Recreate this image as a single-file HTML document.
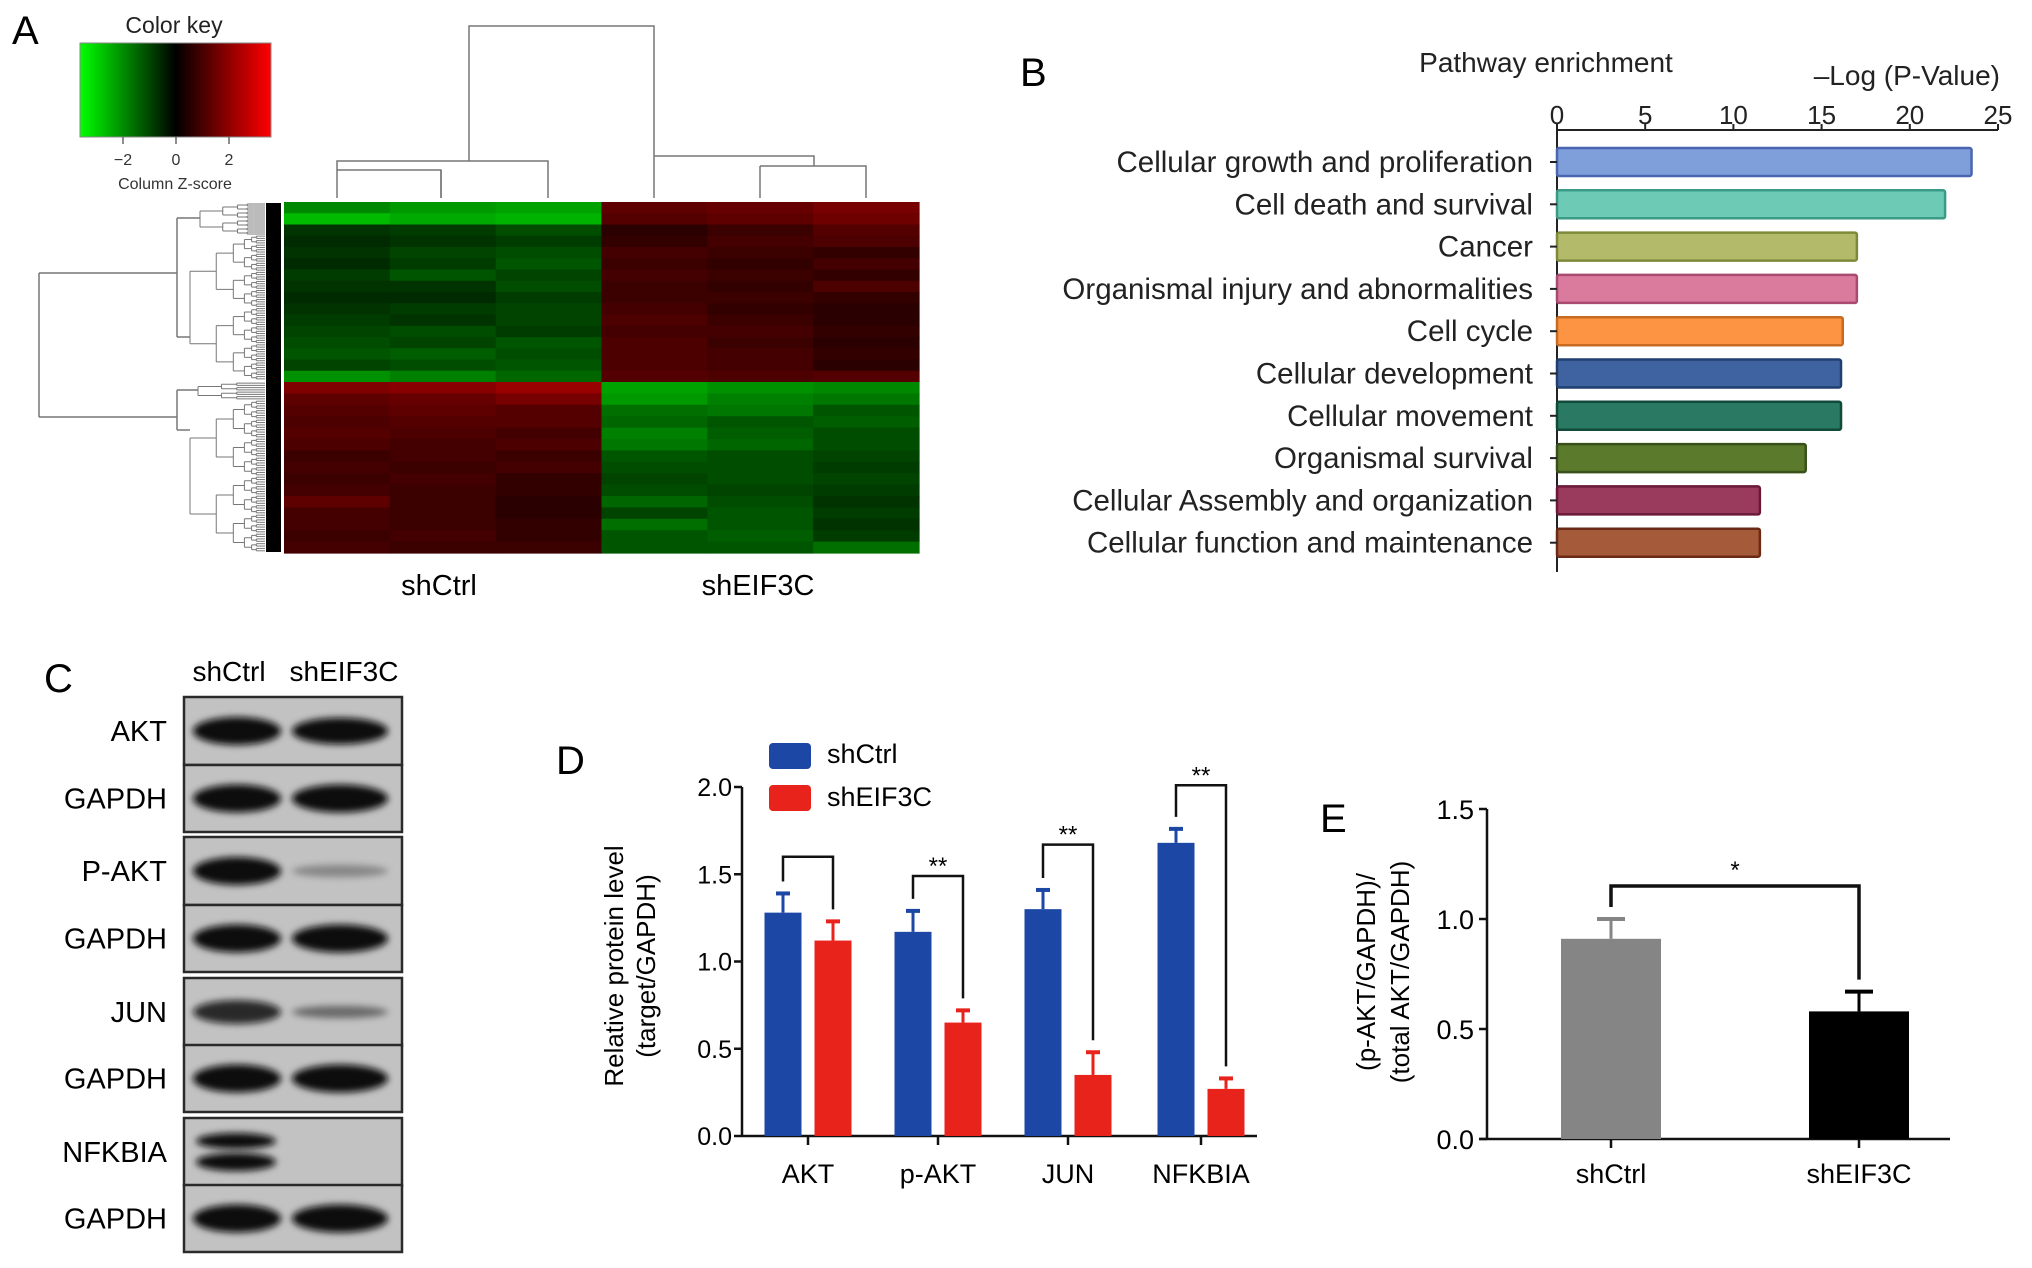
<!DOCTYPE html>
<html><head><meta charset="utf-8"><style>
html,body{margin:0;padding:0;background:#fff;}
svg{display:block;font-family:"Liberation Sans",Arial,sans-serif;}
</style></head><body>
<svg id="fig" width="2032" height="1268" viewBox="0 0 2032 1268" xmlns="http://www.w3.org/2000/svg">
<defs>
<linearGradient id="ck" x1="0" x2="1" y1="0" y2="0">
<stop offset="0" stop-color="#00ff00"/><stop offset="0.5" stop-color="#000"/><stop offset="1" stop-color="#ff0000"/>
</linearGradient>
<filter id="blur" x="-20%" y="-50%" width="140%" height="200%"><feGaussianBlur stdDeviation="3.5"/></filter>
</defs>
<text x="12" y="44" font-size="40">A</text>
<text x="1020" y="86" font-size="40">B</text>
<text x="44" y="692" font-size="40">C</text>
<text x="556" y="774" font-size="40">D</text>
<text x="1320" y="832" font-size="40">E</text>

<g>
<text x="174" y="33" font-size="23" text-anchor="middle" fill="#222">Color key</text>
<rect x="80" y="43" width="191" height="94" fill="url(#ck)" stroke="#888" stroke-width="1"/>
<g stroke="#444" stroke-width="1.2"><line x1="123" y1="137" x2="123" y2="144"/><line x1="176" y1="137" x2="176" y2="144"/><line x1="229" y1="137" x2="229" y2="144"/></g>
<g font-size="16" text-anchor="middle" fill="#333"><text x="123" y="165">−2</text><text x="176" y="165">0</text><text x="229" y="165">2</text></g>
<text x="175" y="189" font-size="16" text-anchor="middle" fill="#333">Column Z-score</text>
</g>
<g id="heatmap"></g>
<g id="dendro" stroke="#777" stroke-width="1.5" fill="none"></g>
<text x="439" y="595" font-size="29" text-anchor="middle">shCtrl</text>
<text x="758" y="595" font-size="29" text-anchor="middle">shEIF3C</text>

<g id="chartB"></g>
<g id="blots"></g>
<g id="chartD"></g>
<g id="chartE"></g>
</svg>
<script>
// ---------- Heatmap data ----------
const heatCols = ["shCtrl1","shCtrl2","shCtrl3","shEIF3C1","shEIF3C2","shEIF3C3"];
const heatTop = [
[-1.6,-1.8,-1.9,1.1,1.2,1.4],[-2.2,-2.0,-2.1,1.0,1.1,1.3],[-0.6,-0.7,-0.9,0.5,0.7,1.0],[-0.5,-0.6,-0.7,0.6,0.8,0.9],
[-0.6,-0.8,-0.9,0.8,0.7,0.6],[-0.5,-0.7,-1.0,0.7,0.6,0.8],[-0.7,-1.0,-0.8,0.8,0.7,0.6],[-0.6,-0.6,-0.9,0.7,0.6,0.9],
[-0.5,-0.5,-0.7,0.7,0.7,0.6],[-0.6,-0.7,-0.8,0.8,0.6,0.5],[-0.7,-0.6,-0.8,0.9,0.7,0.5],[-0.8,-0.9,-0.7,0.8,0.8,0.6],
[-0.9,-0.8,-1.0,0.9,0.7,0.5],[-1.0,-1.1,-0.9,0.9,0.8,0.6],[-0.8,-0.9,-1.0,0.9,0.8,0.5],[-1.7,-1.5,-1.2,1.0,0.9,1.0]];
const heatBot = [
[1.5,1.6,1.8,-1.9,-1.7,-1.6],[1.1,1.2,1.4,-1.8,-1.5,-1.4],[1.0,1.1,1.0,-1.3,-1.4,-1.0],[0.9,1.0,1.0,-1.2,-1.0,-1.1],
[1.0,0.9,0.8,-1.5,-1.1,-0.9],[0.9,0.8,0.9,-1.4,-1.2,-0.9],[0.7,0.8,0.7,-1.0,-0.9,-0.8],[0.8,0.7,0.8,-0.9,-0.9,-0.7],
[0.7,0.8,0.6,-0.8,-0.9,-0.8],[0.8,0.7,0.6,-0.9,-0.8,-0.7],[1.1,0.7,0.5,-1.2,-0.9,-0.6],[0.8,0.7,0.5,-0.8,-1.0,-0.7],
[0.8,0.7,0.6,-1.3,-1.0,-0.6],[0.7,0.8,0.6,-1.0,-1.1,-0.7],[0.8,0.7,0.7,-1.0,-1.0,-1.3]];

// ---------- Panel B data ----------
const pathCats = ["Cellular growth and proliferation","Cell death and survival","Cancer","Organismal injury and abnormalities","Cell cycle","Cellular development","Cellular movement","Organismal survival","Cellular Assembly and organization","Cellular function and maintenance"];
const pathVals = [23.5,22.0,17.0,17.0,16.2,16.1,16.1,14.1,11.5,11.5];
const pathTicks = [0,5,10,15,20,25];

// ---------- Panel D data ----------
const protCats = ["AKT","p-AKT","JUN","NFKBIA"];
const ctrlVals = [1.28,1.17,1.30,1.68];
const ctrlErr = [0.11,0.12,0.11,0.08];
const kdVals = [1.12,0.65,0.35,0.27];
const kdErr = [0.11,0.07,0.13,0.06];
const bracketTops = [1.60,1.49,1.67,2.01];
const sigMarks = ["","**","**","**"];
const protTicks = [0.0,0.5,1.0,1.5,2.0];

// ---------- Panel E data ----------
const ratioCats = ["shCtrl","shEIF3C"];
const ratioVals = [0.91,0.58];
const ratioErr = [0.09,0.09];
const ratioBracket = 1.15;
const ratioTicks = [0.0,0.5,1.0,1.5];

// ---------- Blot data ----------
const blotLabels = ["AKT","GAPDH","P-AKT","GAPDH","JUN","GAPDH","NFKBIA","GAPDH"];
const blotCtrl = [1.0,1.0,1.0,1.0,0.85,1.0,0.95,1.0];
const blotKd = [0.95,1.0,0.25,1.0,0.4,1.0,0.0,1.0];

const NS="http://www.w3.org/2000/svg";
function mk(tag,attrs,parent){const e=document.createElementNS(NS,tag);for(const k in attrs)e.setAttribute(k,attrs[k]);parent.appendChild(e);return e;}
function zcol(z){const t=Math.max(-1,Math.min(1,z/3));if(t<0){return `rgb(0,${Math.round(-t*255)},0)`;}return `rgb(${Math.round(t*255)},0,0)`;}

// Heatmap
(function(){
const g=document.getElementById('heatmap');
const x0=284,x1=919,yTop=202,ySplit=382,yBot=553;
const cw=(x1-x0)/heatCols.length;
function block(rows,ya,yb){const rh=(yb-ya)/rows.length;
rows.forEach((r,i)=>r.forEach((z,j)=>{const c=mk('rect',{x:x0+j*cw,y:ya+i*rh,width:cw+0.6,height:rh+0.6,fill:zcol(z)},g);

}));}
block(heatTop,yTop,ySplit);block(heatBot,ySplit,yBot);
const d=document.getElementById('dendro');
const P=(s)=>mk('path',{d:s},d);
// column dendrogram
P("M469 161 V26 H654 V156");
P("M337 170 V161 H548 V198");P("M337 170 H441 V198");P("M337 170 V198");P("M441 170 V198");
P("M654 156 H814 V166");P("M654 156 V198");P("M760 166 H866 V198");P("M760 166 V198");
// row dendrogram (coarse)
P("M39 273 V417");P("M39 273 H177");P("M39 417 H177");
P("M177 218 V337");P("M177 218 H200");P("M177 337 H190");
P("M177 390 V430");P("M177 390 H198");P("M177 430 H190");
// nested fine structure
const fine=mk('g',{stroke:'#777','stroke-width':1},d);
function tree(x,ya,yb,depth){if(depth===0||yb-ya<3){mk('line',{x1:x,y1:(ya+yb)/2,x2:265,y2:(ya+yb)/2},fine);return;}
const m=(ya+yb)/2,nx=x+(265-x)*0.35;
mk('line',{x1:x,y1:(ya+m)/2,x2:x,y2:(m+yb)/2},fine);
mk('line',{x1:x,y1:(ya+m)/2,x2:nx,y2:(ya+m)/2},fine);
mk('line',{x1:x,y1:(m+yb)/2,x2:nx,y2:(m+yb)/2},fine);
tree(nx,ya,m,depth-1);tree(nx,m,yb,depth-1);}
tree(200,203,235,4);tree(190,235,380,6);tree(198,382,400,3);tree(190,400,552,6);
mk('rect',{x:266,y:203,width:15,height:349,fill:'#000',stroke:'none'},d);
})();

// Panel B
(function(){
const g=document.getElementById('chartB');
const xa=1557,xb=1998,ya=130;
const xs=v=>xa+(xb-xa)*v/25;
const cols=["#7f9fdb","#6dcab5","#b3bb6a","#da7a9d","#fc9444","#3f63a0","#2a7a63","#5b7a2b","#9a3b5d","#a55a3a"];
const strokes=["#4a66b0","#3a9a85","#7e8a3a","#a94a70","#c86a20","#203f70","#104a38","#39501a","#6a1a38","#6a2a15"];
let t=mk('text',{x:1546,y:72,'font-size':28,'text-anchor':'middle',fill:'#222'},g);t.textContent="Pathway enrichment";

t=mk('text',{x:2000,y:85,'font-size':28,'text-anchor':'end',fill:'#222'},g);t.textContent="–Log (P-Value)";

mk('line',{x1:xa,y1:ya,x2:xb,y2:ya,stroke:'#222','stroke-width':2},g);
mk('line',{x1:xa,y1:ya,x2:xa,y2:572,stroke:'#222','stroke-width':2},g);
pathTicks.forEach(v=>{mk('line',{x1:xs(v),y1:ya-6,x2:xs(v),y2:ya,stroke:'#222','stroke-width':2},g);
const l=mk('text',{x:xs(v),y:124,'font-size':26,'text-anchor':'middle',fill:'#222'},g);l.textContent=v;
});
pathCats.forEach((c,i)=>{const cy=162+i*42.3;
const r=mk('rect',{x:xa,y:cy-14,width:xs(pathVals[i])-xa,height:28,fill:cols[i],stroke:strokes[i],'stroke-width':2.5,rx:2},g);


mk('line',{x1:xa-7,y1:cy,x2:xa,y2:cy,stroke:'#222','stroke-width':2},g);
const l=mk('text',{x:1533,y:cy+10,'font-size':29.5,'text-anchor':'end',fill:'#222'},g);l.textContent=c;

});
})();

// Panel C blots
(function(){
const g=document.getElementById('blots');
let t=mk('text',{x:229,y:681,'font-size':28,'text-anchor':'middle'},g);t.textContent="shCtrl";

t=mk('text',{x:344,y:681,'font-size':28,'text-anchor':'middle'},g);t.textContent="shEIF3C";

const tops=[697,765,837,905,978,1045,1118,1185];
blotLabels.forEach((lab,i)=>{const y=tops[i],h=(i%2==0?68:67);
const r=mk('rect',{x:184,y:y,width:218,height:h,fill:'#c2c2c2',stroke:'#2a2a2a','stroke-width':2.5},g);

const cy=y+h/2;
if(lab==="NFKBIA"){mk('ellipse',{cx:236,cy:cy-11,rx:40,ry:8,fill:'#0a0a0a',filter:'url(#blur)'},g);mk('ellipse',{cx:236,cy:cy+10,rx:40,ry:9,fill:'#0a0a0a',filter:'url(#blur)'},g);}
else{const a=blotCtrl[i],b=blotKd[i];
mk('ellipse',{cx:237,cy:cy,rx:44,ry:14*Math.max(a,0.6),fill:'#0a0a0a','fill-opacity':a,filter:'url(#blur)'},g);
if(b>0)mk('ellipse',{cx:340,cy:cy,rx:48,ry:14*Math.max(b,0.45),fill:'#0a0a0a','fill-opacity':Math.min(1,b+0.05),filter:'url(#blur)'},g);}
const l=mk('text',{x:167,y:cy+10,'font-size':29,'text-anchor':'end'},g);l.textContent=lab;
});
})();

// Panel D
(function(){
const g=document.getElementById('chartD');
const x0=742,xEnd=1257,y0=1136,perUnit=(1136-787)/2;
const ys=v=>y0-v*perUnit;
const centers=[808,938,1068,1201];
mk('line',{x1:x0,y1:787,x2:x0,y2:y0,stroke:'#111','stroke-width':2.5},g);
mk('line',{x1:x0,y1:y0,x2:xEnd,y2:y0,stroke:'#111','stroke-width':2.5},g);
protTicks.forEach(v=>{mk('line',{x1:x0-8,y1:ys(v),x2:x0,y2:ys(v),stroke:'#111','stroke-width':2.5},g);
const l=mk('text',{x:x0-10,y:ys(v)+9,'font-size':25,'text-anchor':'end'},g);l.textContent=v.toFixed(1);
});
const yl=mk('text',{transform:'translate(623,966) rotate(-90)','font-size':26,'text-anchor':'middle'},g);
yl.innerHTML='<tspan x="0" dy="0">Relative protein level</tspan><tspan x="0" dy="32">(target/GAPDH)</tspan>';

let r=mk('rect',{x:769,y:743,width:42,height:26,fill:'#1c47a5',rx:4},g);
let t=mk('text',{x:827,y:763,'font-size':27},g);t.textContent='shCtrl';
r=mk('rect',{x:769,y:785,width:42,height:26,fill:'#e8231c',rx:4},g);
t=mk('text',{x:827,y:806,'font-size':27},g);t.textContent='shEIF3C';
protCats.forEach((c,i)=>{const cx=centers[i];
mk('line',{x1:cx,y1:y0,x2:cx,y2:y0+9,stroke:'#111','stroke-width':2.5},g);
const l=mk('text',{x:cx,y:1183,'font-size':27,'text-anchor':'middle'},g);l.textContent=c;

[[ctrlVals,ctrlErr,'#1c47a5',-25],[kdVals,kdErr,'#e8231c',25]].forEach(([vals,errs,col,off])=>{
const bx=cx+off,v=vals[i],e=errs[i];
const b=mk('rect',{x:bx-18.5,y:ys(v),width:37,height:y0-ys(v),fill:col},g);


mk('line',{x1:bx,y1:ys(v),x2:bx,y2:ys(v+e),stroke:col,'stroke-width':3},g);
mk('line',{x1:bx-7,y1:ys(v+e),x2:bx+7,y2:ys(v+e),stroke:col,'stroke-width':4},g);});
const lTop=ys(ctrlVals[i]+ctrlErr[i])-12,rTop=ys(kdVals[i]+kdErr[i])-12;
const top=ys(bracketTops[i]);
const bx1=cx-25,bx2=cx+25;
const br=mk('path',{d:`M${bx1} ${lTop} V${top} H${bx2} V${rTop}`,stroke:'#111','stroke-width':2.5,fill:'none'},g);

if(sigMarks[i]){const s=mk('text',{x:cx,y:top-2,'font-size':24,'text-anchor':'middle'},g);s.textContent=sigMarks[i];
}});
})();

// Panel E
(function(){
const g=document.getElementById('chartE');
const x0=1487,xEnd=1950,y0=1139,perUnit=(1139-809)/1.5;
const ys=v=>y0-v*perUnit;
const centers=[1611,1859];const cols=['#858585','#000'];
mk('line',{x1:x0,y1:809,x2:x0,y2:y0,stroke:'#111','stroke-width':2.5},g);
mk('line',{x1:x0-8,y1:y0,x2:xEnd,y2:y0,stroke:'#111','stroke-width':2.5},g);
ratioTicks.forEach(v=>{mk('line',{x1:x0-8,y1:ys(v),x2:x0,y2:ys(v),stroke:'#111','stroke-width':2.5},g);
const l=mk('text',{x:x0-13,y:ys(v)+10,'font-size':27,'text-anchor':'end'},g);l.textContent=v.toFixed(1);
});
const yl=mk('text',{transform:'translate(1375,972) rotate(-90)','font-size':26,'text-anchor':'middle'},g);
yl.innerHTML='<tspan x="0" dy="0">(p-AKT/GAPDH)/</tspan><tspan x="0" dy="34">(total AKT/GAPDH)</tspan>';

ratioCats.forEach((c,i)=>{const cx=centers[i],v=ratioVals[i],e=ratioErr[i];
const b=mk('rect',{x:cx-50,y:ys(v),width:100,height:y0-ys(v),fill:cols[i]},g);


mk('line',{x1:cx,y1:ys(v),x2:cx,y2:ys(v+e),stroke:cols[i],'stroke-width':3},g);
mk('line',{x1:cx-14,y1:ys(v+e),x2:cx+14,y2:ys(v+e),stroke:cols[i],'stroke-width':4},g);
mk('line',{x1:cx,y1:y0,x2:cx,y2:y0+9,stroke:'#111','stroke-width':2.5},g);
const l=mk('text',{x:cx,y:1183,'font-size':27,'text-anchor':'middle'},g);l.textContent=c;
});
const top=ys(ratioBracket);
const br=mk('path',{d:`M${centers[0]} ${ys(ratioVals[0]+ratioErr[0])-12} V${top} H${centers[1]} V${ys(ratioVals[1]+ratioErr[1])-12}`,stroke:'#111','stroke-width':3.5,fill:'none'},g);

const s=mk('text',{x:(centers[0]+centers[1])/2,y:top-8,'font-size':24,'text-anchor':'middle'},g);s.textContent='*';

})();
</script>
</body></html>
